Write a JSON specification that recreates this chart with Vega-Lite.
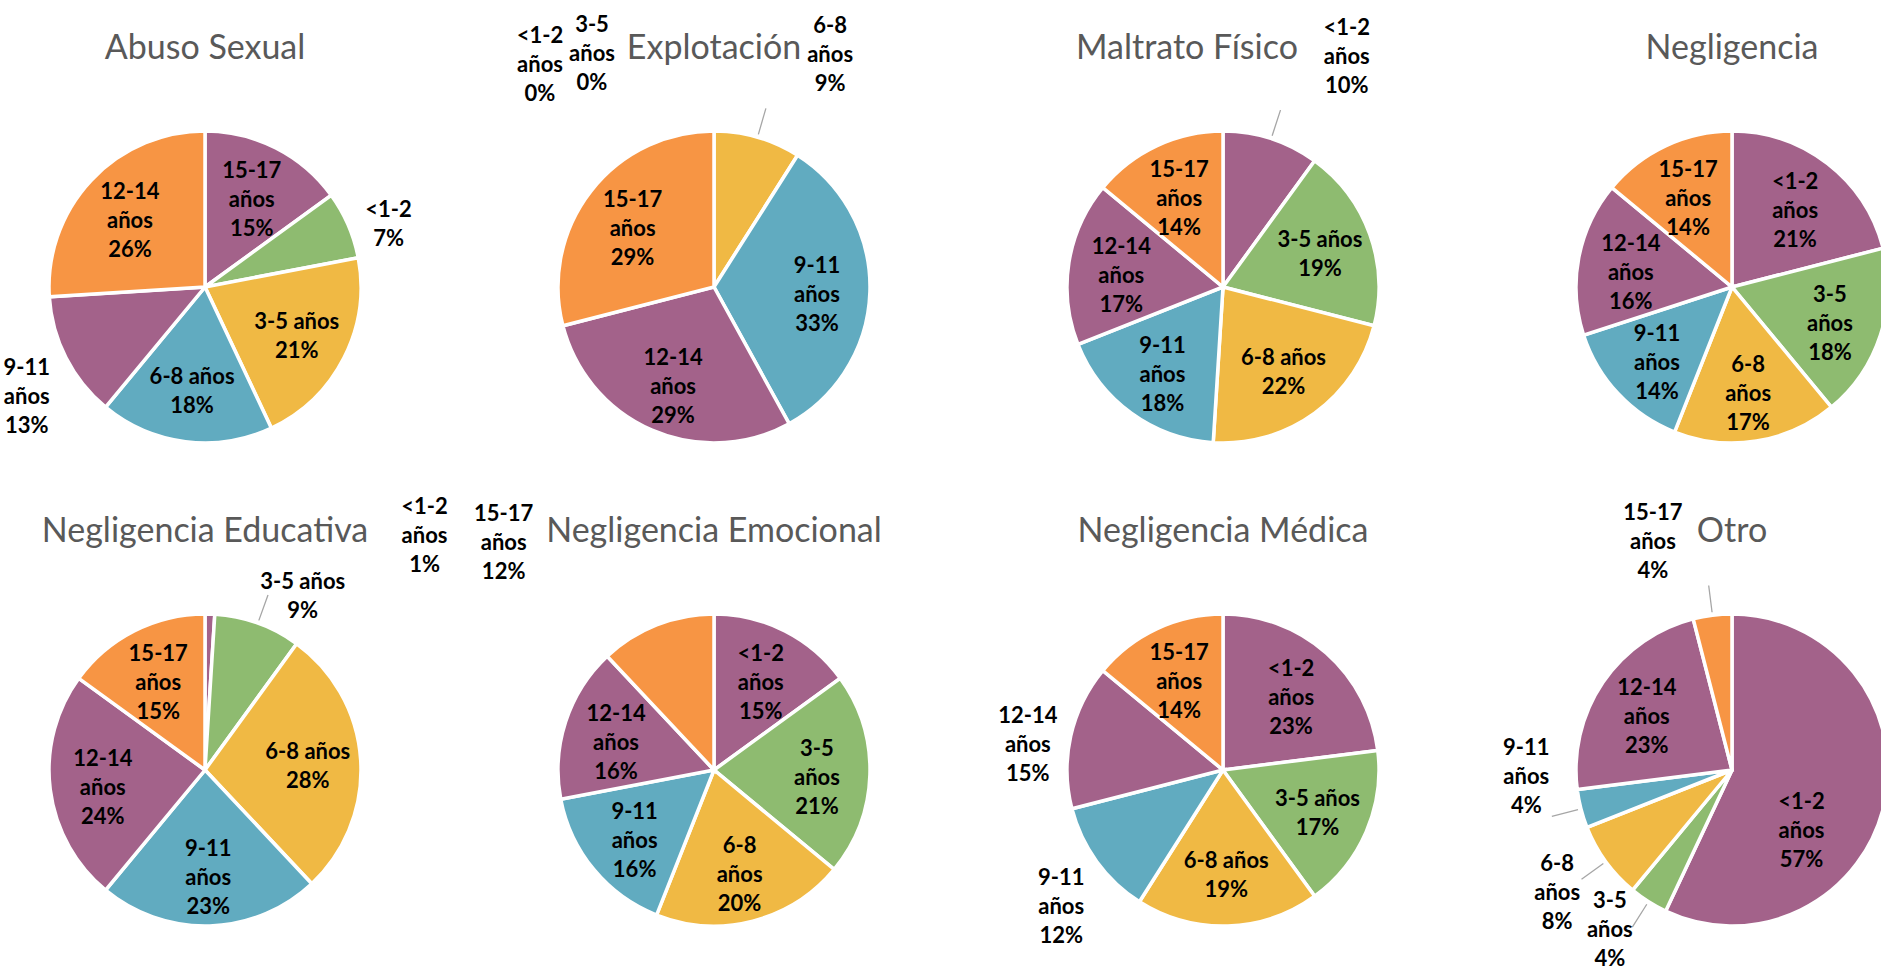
{
  "$schema": "https://vega.github.io/schema/vega-lite/v6.json",
  "padding": {"left": 3, "top": 13, "right": 0, "bottom": 0},
  "background": "white",
  "data": {"values": [
    {"tipo": "Abuso Sexual", "orden": 1, "valor": 15, "etiqueta": "15-17\naños\n15%", "pos": "dentro"},
    {"tipo": "Abuso Sexual", "orden": 2, "valor": 7, "etiqueta": "<1-2\n7%", "pos": "fuera"},
    {"tipo": "Abuso Sexual", "orden": 3, "valor": 21, "etiqueta": "3-5 años\n21%", "pos": "dentro"},
    {"tipo": "Abuso Sexual", "orden": 4, "valor": 18, "etiqueta": "6-8 años\n18%", "pos": "dentro"},
    {"tipo": "Abuso Sexual", "orden": 5, "valor": 13, "etiqueta": "9-11\naños\n13%", "pos": "fuera"},
    {"tipo": "Abuso Sexual", "orden": 6, "valor": 26, "etiqueta": "12-14\naños\n26%", "pos": "dentro"},
    {"tipo": "Explotación", "orden": 1, "valor": 0, "etiqueta": "<1-2\naños\n0%", "pos": "arriba-izquierda-lejos"},
    {"tipo": "Explotación", "orden": 2, "valor": 0, "etiqueta": "3-5\naños\n0%", "pos": "arriba-izquierda"},
    {"tipo": "Explotación", "orden": 3, "valor": 9, "etiqueta": "6-8\naños\n9%", "pos": "arriba-derecha"},
    {"tipo": "Explotación", "orden": 4, "valor": 33, "etiqueta": "9-11\naños\n33%", "pos": "dentro"},
    {"tipo": "Explotación", "orden": 5, "valor": 29, "etiqueta": "12-14\naños\n29%", "pos": "dentro"},
    {"tipo": "Explotación", "orden": 6, "valor": 29, "etiqueta": "15-17\naños\n29%", "pos": "dentro"},
    {"tipo": "Maltrato Físico", "orden": 1, "valor": 10, "etiqueta": "<1-2\naños\n10%", "pos": "arriba-derecha"},
    {"tipo": "Maltrato Físico", "orden": 2, "valor": 19, "etiqueta": "3-5 años\n19%", "pos": "dentro"},
    {"tipo": "Maltrato Físico", "orden": 3, "valor": 22, "etiqueta": "6-8 años\n22%", "pos": "dentro"},
    {"tipo": "Maltrato Físico", "orden": 4, "valor": 18, "etiqueta": "9-11\naños\n18%", "pos": "dentro"},
    {"tipo": "Maltrato Físico", "orden": 5, "valor": 17, "etiqueta": "12-14\naños\n17%", "pos": "dentro"},
    {"tipo": "Maltrato Físico", "orden": 6, "valor": 14, "etiqueta": "15-17\naños\n14%", "pos": "dentro"},
    {"tipo": "Negligencia", "orden": 1, "valor": 21, "etiqueta": "<1-2\naños\n21%", "pos": "dentro"},
    {"tipo": "Negligencia", "orden": 2, "valor": 18, "etiqueta": "3-5\naños\n18%", "pos": "dentro"},
    {"tipo": "Negligencia", "orden": 3, "valor": 17, "etiqueta": "6-8\naños\n17%", "pos": "dentro"},
    {"tipo": "Negligencia", "orden": 4, "valor": 14, "etiqueta": "9-11\naños\n14%", "pos": "dentro"},
    {"tipo": "Negligencia", "orden": 5, "valor": 16, "etiqueta": "12-14\naños\n16%", "pos": "dentro"},
    {"tipo": "Negligencia", "orden": 6, "valor": 14, "etiqueta": "15-17\naños\n14%", "pos": "dentro"},
    {"tipo": "Negligencia Educativa", "orden": 1, "valor": 1, "etiqueta": "<1-2\naños\n1%", "pos": "derecha-lejos"},
    {"tipo": "Negligencia Educativa", "orden": 2, "valor": 9, "etiqueta": "3-5 años\n9%", "pos": "fuera-derecha"},
    {"tipo": "Negligencia Educativa", "orden": 3, "valor": 28, "etiqueta": "6-8 años\n28%", "pos": "dentro"},
    {"tipo": "Negligencia Educativa", "orden": 4, "valor": 23, "etiqueta": "9-11\naños\n23%", "pos": "dentro"},
    {"tipo": "Negligencia Educativa", "orden": 5, "valor": 24, "etiqueta": "12-14\naños\n24%", "pos": "dentro"},
    {"tipo": "Negligencia Educativa", "orden": 6, "valor": 15, "etiqueta": "15-17\naños\n15%", "pos": "dentro"},
    {"tipo": "Negligencia Emocional", "orden": 1, "valor": 15, "etiqueta": "<1-2\naños\n15%", "pos": "dentro"},
    {"tipo": "Negligencia Emocional", "orden": 2, "valor": 21, "etiqueta": "3-5\naños\n21%", "pos": "dentro"},
    {"tipo": "Negligencia Emocional", "orden": 3, "valor": 20, "etiqueta": "6-8\naños\n20%", "pos": "dentro"},
    {"tipo": "Negligencia Emocional", "orden": 4, "valor": 16, "etiqueta": "9-11\naños\n16%", "pos": "dentro"},
    {"tipo": "Negligencia Emocional", "orden": 5, "valor": 16, "etiqueta": "12-14\naños\n16%", "pos": "dentro"},
    {"tipo": "Negligencia Emocional", "orden": 6, "valor": 12, "etiqueta": "15-17\naños\n12%", "pos": "arriba-izquierda-alta"},
    {"tipo": "Negligencia Médica", "orden": 1, "valor": 23, "etiqueta": "<1-2\naños\n23%", "pos": "dentro"},
    {"tipo": "Negligencia Médica", "orden": 2, "valor": 17, "etiqueta": "3-5 años\n17%", "pos": "dentro"},
    {"tipo": "Negligencia Médica", "orden": 3, "valor": 19, "etiqueta": "6-8 años\n19%", "pos": "dentro"},
    {"tipo": "Negligencia Médica", "orden": 4, "valor": 12, "etiqueta": "9-11\naños\n12%", "pos": "fuera"},
    {"tipo": "Negligencia Médica", "orden": 5, "valor": 15, "etiqueta": "12-14\naños\n15%", "pos": "fuera"},
    {"tipo": "Negligencia Médica", "orden": 6, "valor": 14, "etiqueta": "15-17\naños\n14%", "pos": "dentro"},
    {"tipo": "Otro", "orden": 1, "valor": 57, "etiqueta": "<1-2\naños\n57%", "pos": "dentro-abajo"},
    {"tipo": "Otro", "orden": 2, "valor": 4, "etiqueta": "3-5\naños\n4%", "pos": "fuera-abajo"},
    {"tipo": "Otro", "orden": 3, "valor": 8, "etiqueta": "6-8\naños\n8%", "pos": "fuera-linea"},
    {"tipo": "Otro", "orden": 4, "valor": 4, "etiqueta": "9-11\naños\n4%", "pos": "fuera-izquierda"},
    {"tipo": "Otro", "orden": 5, "valor": 23, "etiqueta": "12-14\naños\n23%", "pos": "dentro"},
    {"tipo": "Otro", "orden": 6, "valor": 4, "etiqueta": "15-17\naños\n4%", "pos": "arriba"}
  ]},
  "facet": {
    "field": "tipo", "type": "nominal",
    "sort": ["Abuso Sexual", "Explotación", "Maltrato Físico", "Negligencia", "Negligencia Educativa", "Negligencia Emocional", "Negligencia Médica", "Otro"],
    "header": {"title": null, "labels": false, "labelExpr": "''", "labelFontSize": 1, "labelColor": "white", "labelPadding": 0}
  },
  "columns": 4,
  "spacing": {"column": 189, "row": 163},
  "bounds": "flush",
  "spec": {
    "width": 320,
    "height": 320,
    "layer": [
      {
        "mark": {"type": "arc", "outerRadius": 156, "stroke": "white", "strokeWidth": 3.5},
        "encoding": {
          "theta": {"field": "valor", "type": "quantitative", "stack": true},
          "order": {"field": "orden", "type": "quantitative"},
          "color": {"field": "orden", "type": "ordinal", "legend": null,
            "scale": {"domain": [1, 2, 3, 4, 5, 6], "range": ["#A3628A", "#8EBB70", "#F0B944", "#61ABC0", "#A3628A", "#F79544"]}}
        }
      },
      {
        "mark": {"type": "arc", "innerRadius": 159, "outerRadius": 186, "padAngle": 3.14, "filled": false, "stroke": "#A6A6A6", "strokeWidth": 1.3},
        "encoding": {
          "theta": {"field": "valor", "type": "quantitative", "stack": true},
          "order": {"field": "orden", "type": "quantitative"},
          "strokeOpacity": {"condition": {"test": "indexof(['arriba-derecha', 'fuera-derecha', 'fuera-izquierda', 'fuera-linea', 'fuera-abajo', 'arriba'], datum.pos) >= 0", "value": 1}, "value": 0}
        }
      },
      {
        "mark": {
          "type": "text", "font": "Lato", "fontSize": 22, "fontWeight": "bold",
          "lineBreak": "\n", "lineHeight": 29, "color": "#000000",
          "align": "center", "baseline": "middle",
          "radius": {"expr": "(datum.pos == 'dentro' || datum.pos == 'dentro-abajo') ? 103 : (datum.pos == 'fuera' || datum.pos == 'fuera-linea' || datum.pos == 'fuera-abajo' || datum.pos == 'fuera-derecha' || datum.pos == 'fuera-izquierda') ? 200 : datum.pos == 'arriba-derecha' ? 255 : 240"},
          "dx": {"expr": "datum.pos == 'dentro-abajo' ? -31 : datum.pos == 'fuera-derecha' ? 30 : datum.pos == 'fuera-izquierda' ? -12 : datum.pos == 'fuera-linea' ? -13 : datum.pos == 'fuera-abajo' ? -15 : datum.pos == 'arriba-derecha' ? 45 : (datum.pos == 'arriba-izquierda' || datum.pos == 'arriba-izquierda-alta') ? -122 : datum.pos == 'arriba-izquierda-lejos' ? -174 : datum.pos == 'arriba' ? -49 : datum.pos == 'derecha-lejos' ? 212 : 0"},
          "dy": {"expr": "(datum.pos == 'fuera' ? 14 : datum.pos == 'dentro-abajo' ? 34 : datum.pos == 'fuera-derecha' ? 12 : datum.pos == 'fuera-izquierda' ? -48 : datum.pos == 'fuera-abajo' ? -14 : datum.pos == 'arriba-derecha' ? 8 : datum.pos == 'arriba-izquierda' ? 2 : datum.pos == 'arriba-izquierda-alta' ? -9 : datum.pos == 'arriba-izquierda-lejos' ? 13 : datum.pos == 'arriba' ? 5 : datum.pos == 'derecha-lejos' ? 1 : 0) - (length(split(datum.etiqueta, '\\n')) - 1) * 12"}
        },
        "encoding": {
          "theta": {"field": "valor", "type": "quantitative", "stack": true},
          "order": {"field": "orden", "type": "quantitative"},
          "text": {"field": "etiqueta", "type": "nominal"}
        }
      },
      {
        "transform": [{"filter": "datum.orden == 1"}],
        "mark": {
          "type": "text", "font": "Lato", "fontSize": 34, "color": "#595959",
          "align": "center", "baseline": "alphabetic", "dy": -228,
          "dx": {"expr": "datum.tipo == 'Maltrato Físico' ? -36 : 0"}
        },
        "encoding": {"text": {"field": "tipo", "type": "nominal"}}
      }
    ]
  },
  "config": {"view": {"stroke": null}, "header": {"labels": false, "title": null}}
}
